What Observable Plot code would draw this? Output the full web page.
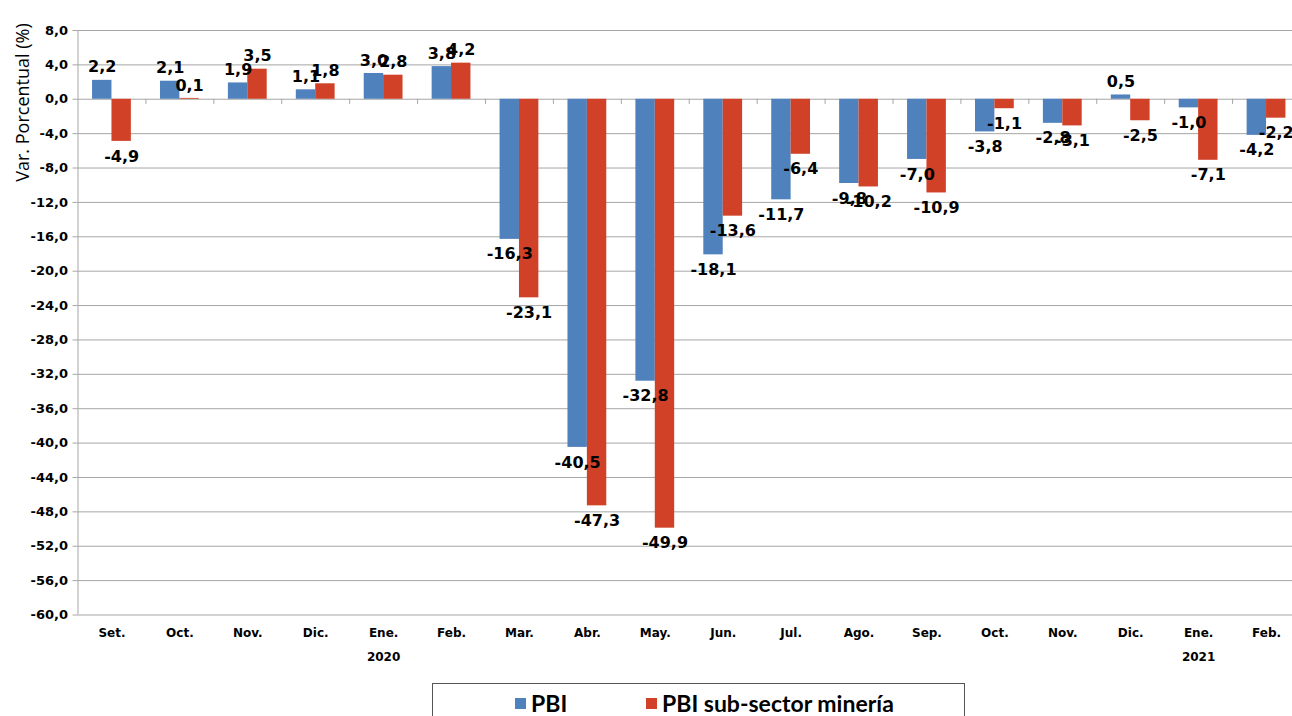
<!DOCTYPE html>
<html>
<head>
<meta charset="utf-8">
<script src="https://cdn.jsdelivr.net/npm/d3@7"></script>
<script src="https://cdn.jsdelivr.net/npm/@observablehq/plot@0.6"></script>
<style>
  html, body { margin: 0; padding: 0; background: #fff; }
  #wrap { position: relative; width: 1292px; height: 716px; overflow: hidden; }
  #legend {
    position: absolute; left: 432px; top: 683px; width: 533px; height: 40px;
    border: 1px solid #555; box-sizing: border-box; background: #fff;
    font-family: Lato, "Open Sans", sans-serif; font-weight: 700; font-size: 23px; color: #000;
  }
  #legend .item { position: absolute; top: 5px; display: flex; align-items: center; }
  #legend .sw { width: 11px; height: 11px; margin-right: 5px; }
</style>
</head>
<body>
<div id="wrap">
  <div id="chart"></div>
  <div id="legend">
    <div class="item" style="left:82px"><span class="sw" style="background:#4F81BD"></span><span>PBI</span></div>
    <div class="item" style="left:213px"><span class="sw" style="background:#D04128"></span><span>PBI sub-sector minería</span></div>
  </div>
</div>
<script>
// ---- Data ----
const periods = ["2019-09","2019-10","2019-11","2019-12","2020-01","2020-02","2020-03","2020-04","2020-05","2020-06","2020-07","2020-08","2020-09","2020-10","2020-11","2020-12","2021-01","2021-02"];
const months  = ["Set.","Oct.","Nov.","Dic.","Ene.","Feb.","Mar.","Abr.","May.","Jun.","Jul.","Ago.","Sep.","Oct.","Nov.","Dic.","Ene.","Feb."];
const years   = ["","","","","2020","","","","","","","","","","","","2021",""];
const pbi     = [2.2, 2.1, 1.9, 1.1, 3.0, 3.8, -16.3, -40.5, -32.8, -18.1, -11.7, -9.8, -7.0, -3.8, -2.8, 0.5, -1.0, -4.2];
const mineria = [-4.9, 0.1, 3.5, 1.8, 2.8, 4.2, -23.1, -47.3, -49.9, -13.6, -6.4, -10.2, -10.9, -1.1, -3.1, -2.5, -7.1, -2.2];
const yTicks  = [-60,-56,-52,-48,-44,-40,-36,-32,-28,-24,-20,-16,-12,-8,-4,0,4,8];
const yTitle  = "Var. Porcentual (%)";

const rows = periods.map((p, i) => ({period: p, month: months[i], year: years[i], pbi: pbi[i], min: mineria[i]}));
const fmt = v => v.toFixed(1).replace(".", ",");

const BLUE = "#4F81BD", RED = "#D04128", GRID = "#a6a6a6";
const bw = (1300 - 77.5) / periods.length; // band width in px
const half = bw / 2;
const barW = 19.4;
const outer = (bw - 2 * barW) / 2;
const lblFont = {fontFamily: "DejaVu Sans", fontWeight: "bold", fontSize: 16, fill: "#000"};

const chart = Plot.plot({
  width: 1292,
  height: 716,
  marginTop: 30,
  marginBottom: 101.5,
  marginLeft: 77.5,
  marginRight: -8,
  style: {background: "#fff", fontFamily: "DejaVu Sans"},
  x: {type: "band", domain: periods, padding: 0, round: false, axis: null},
  y: {domain: [-60, 8], axis: null},
  marks: [
    Plot.ruleY(yTicks, {stroke: GRID, strokeWidth: 1}),
    Plot.ruleX([periods[0]], {x: d => d, y1: -60, y2: 8, dx: -half, stroke: GRID}),
    Plot.ruleX(periods, {x: d => d, y1: 0, y2: -0.6, dx: half, stroke: GRID}),
    Plot.barY(rows, {x: "period", y: "pbi", fill: BLUE, insetLeft: outer, insetRight: half}),
    Plot.barY(rows, {x: "period", y: "min", fill: RED, insetLeft: half, insetRight: outer}),
    Plot.axisY({ticks: yTicks, tickSize: 5, tickPadding: 5, tickFormat: d => d.toFixed(1).replace(".", ","),
      fontSize: 13, fontWeight: "bold", fontFamily: "DejaVu Sans", label: null, stroke: GRID, color: "#000"}),
    Plot.text([yTitle], {frameAnchor: "top-left", dx: -62, dy: 72, rotate: -90, textAnchor: "middle",
      fontFamily: "Open Sans", fontSize: 18, fill: "#000"}),
    Plot.text(rows, {x: "period", text: "month", frameAnchor: "bottom", dy: 22,
      fontFamily: "DejaVu Sans", fontWeight: "bold", fontSize: 12, fill: "#000"}),
    Plot.text(rows, {x: "period", text: "year", frameAnchor: "bottom", dy: 46,
      fontFamily: "DejaVu Sans", fontWeight: "bold", fontSize: 12, fill: "#000"}),
    // data labels
    Plot.text(rows.filter(d => d.pbi >= 0), {x: "period", y: "pbi", text: d => fmt(d.pbi), dx: -barW / 2, dy: -13, ...lblFont}),
    Plot.text(rows.filter(d => d.pbi < 0), {x: "period", y: "pbi", text: d => fmt(d.pbi), dx: -barW / 2, dy: 15, ...lblFont}),
    Plot.text(rows.filter(d => d.min >= 0), {x: "period", y: "min", text: d => fmt(d.min), dx: barW / 2, dy: -13, ...lblFont}),
    Plot.text(rows.filter(d => d.min < 0), {x: "period", y: "min", text: d => fmt(d.min), dx: barW / 2, dy: 15, ...lblFont})
  ]
});
document.getElementById("chart").appendChild(chart);
</script>
</body>
</html>
